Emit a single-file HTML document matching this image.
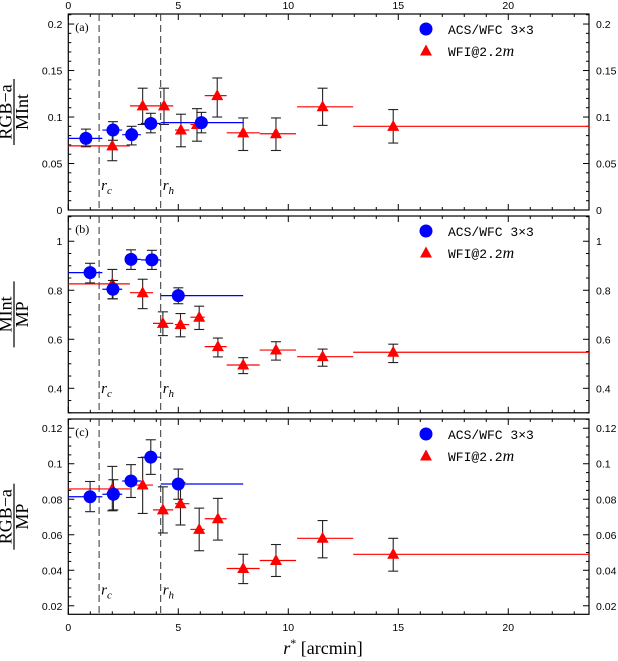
<!DOCTYPE html>
<html><head><meta charset="utf-8">
<style>
html,body{margin:0;padding:0;background:#fff;}
svg{display:block;}
text{font-family:"Liberation Sans",sans-serif;}
text.serif{font-family:"Liberation Serif",serif;}
text.mono{font-family:"Liberation Mono",monospace;}
</style></head>
<body>
<svg id="chart" width="618" height="661" viewBox="0 0 618 661" xmlns="http://www.w3.org/2000/svg"></svg>
<script>
// ---- data ----
const rcPos = 1.4;
const rhPos = 4.2;
const panelLabels = ['(a)', '(b)', '(c)'];
const xTickLabels = [0, 5, 10, 15, 20];

// panel a: RGB-a / MInt
const acsA_x = [0.8, 2.03, 2.88, 3.75, 6.05];
const acsA_y = [0.077, 0.086, 0.081, 0.093, 0.094];
const acsA_lo = [0.068, 0.075, 0.070, 0.083, 0.083];
const acsA_hi = [0.087, 0.095, 0.090, 0.104, 0.105];
const acsA_x0 = [0, 1.55, 2.45, 3.3, 4.2];
const acsA_x1 = [1.55, 2.45, 3.3, 4.2, 7.95];
const wfiA_x = [2.0, 3.38, 4.35, 5.12, 5.85, 6.77, 7.95, 9.44, 11.56, 14.77];
const wfiA_y = [0.069, 0.112, 0.112, 0.086, 0.092, 0.123, 0.083, 0.082, 0.111, 0.090];
const wfiA_lo = [0.053, 0.092, 0.092, 0.068, 0.074, 0.100, 0.064, 0.064, 0.091, 0.072];
const wfiA_hi = [0.085, 0.131, 0.131, 0.103, 0.109, 0.142, 0.099, 0.099, 0.131, 0.108];
const wfi_x0 = [0, 2.8, 3.85, 4.85, 5.55, 6.2, 7.2, 8.7, 10.4, 12.95];
const wfi_x1 = [2.8, 3.85, 4.77, 5.5, 6.2, 7.2, 8.7, 10.35, 12.95, 23.67];

// panel b: MInt / MP
const acsB_x = [0.99, 2.03, 2.85, 3.8, 5.0];
const acsB_y = [0.872, 0.804, 0.926, 0.924, 0.778];
const acsB_lo = [0.83, 0.765, 0.885, 0.885, 0.745];
const acsB_hi = [0.91, 0.84, 0.965, 0.963, 0.81];
const acsB_x0 = [0, 1.55, 2.6, 3.3, 4.2];
const acsB_x1 = [1.55, 2.45, 3.3, 4.2, 7.95];
const wfiB_x = [2.0, 3.38, 4.3, 5.1, 5.95, 6.8, 7.95, 9.44, 11.56, 14.77];
const wfiB_y = [0.826, 0.79, 0.665, 0.66, 0.69, 0.57, 0.495, 0.556, 0.529, 0.547];
const wfiB_lo = [0.765, 0.725, 0.615, 0.61, 0.64, 0.528, 0.46, 0.515, 0.49, 0.505];
const wfiB_hi = [0.885, 0.845, 0.712, 0.705, 0.735, 0.605, 0.525, 0.59, 0.56, 0.58];

// panel c: RGB-a / MP
const acsC_x = [0.99, 2.05, 2.85, 3.75, 5.0];
const acsC_y = [0.0814, 0.0828, 0.0903, 0.1037, 0.0886];
const acsC_lo = [0.073, 0.074, 0.081, 0.094, 0.080];
const acsC_hi = [0.090, 0.091, 0.0995, 0.1135, 0.097];
const acsC_x0 = [0, 1.55, 2.45, 3.3, 4.2];
const acsC_x1 = [1.55, 2.45, 3.3, 4.2, 7.95];
const wfiC_x = [2.0, 3.38, 4.3, 5.1, 5.95, 6.8, 7.95, 9.44, 11.56, 14.77];
const wfiC_y = [0.0858, 0.088, 0.074, 0.0775, 0.063, 0.069, 0.041, 0.0455, 0.058, 0.049];
const wfiC_lo = [0.0735, 0.072, 0.061, 0.0655, 0.051, 0.057, 0.0325, 0.0365, 0.047, 0.0395];
const wfiC_hi = [0.0985, 0.1035, 0.087, 0.0895, 0.075, 0.0805, 0.049, 0.0545, 0.068, 0.058];

const yTicksA = [0, 0.05, 0.1, 0.15, 0.2];
const yTickLabelsA = ['0', '0.05', '0.1', '0.15', '0.2'];
const yTicksB = [0.4, 0.6, 0.8, 1];
const yTickLabelsB = ['0.4', '0.6', '0.8', '1'];
const yTicksC = [0.02, 0.04, 0.06, 0.08, 0.1, 0.12];
const yTickLabelsC = ['0.02', '0.04', '0.06', '0.08', '0.1', '0.12'];

// ---- layout ----
const NS = 'http://www.w3.org/2000/svg';
const svg = document.getElementById('chart');
const L = 68.3, R = 589, XMIN = 0, XMAX = 23.67;
const xs = v => L + (v - XMIN) / (XMAX - XMIN) * (R - L);
function mk(tag, attrs, parent) {
  const e = document.createElementNS(NS, tag);
  for (const k in attrs) e.setAttribute(k, attrs[k]);
  (parent || svg).appendChild(e);
  return e;
}
const panels = [
  {top:14, bot:210, ymin:0, ymax:0.2108, minor:0.01, ticks:yTicksA, labs:yTickLabelsA,
   acs:[acsA_x,acsA_y,acsA_lo,acsA_hi,acsA_x0,acsA_x1], wfi:[wfiA_x,wfiA_y,wfiA_lo,wfiA_hi,wfi_x0,wfi_x1],
   ytitle:['RGB−a','MInt'], name:'panel-a'},
  {top:216, bot:412.8, ymin:0.3, ymax:1.103, minor:0.05, ticks:yTicksB, labs:yTickLabelsB,
   acs:[acsB_x,acsB_y,acsB_lo,acsB_hi,acsB_x0,acsB_x1], wfi:[wfiB_x,wfiB_y,wfiB_lo,wfiB_hi,wfi_x0,wfi_x1],
   ytitle:['MInt','MP'], name:'panel-b'},
  {top:419, bot:614.3, ymin:0.0152, ymax:0.1252, minor:0.005, ticks:yTicksC, labs:yTickLabelsC,
   acs:[acsC_x,acsC_y,acsC_lo,acsC_hi,acsC_x0,acsC_x1], wfi:[wfiC_x,wfiC_y,wfiC_lo,wfiC_hi,wfi_x0,wfi_x1],
   ytitle:['RGB−a','MP'], name:'panel-c'}
];

panels.forEach((p, pi) => {
  const ys = v => p.bot - (v - p.ymin) / (p.ymax - p.ymin) * (p.bot - p.top);
  const g = mk('g', {});
  
  
  const fr = mk('rect', {x:L, y:p.top, width:R-L, height:p.bot-p.top, fill:'none', stroke:'#000', 'stroke-width':1.2}, g);
  
  
  for (let v = 0; v <= 23; v++) {
    const len = v % 5 === 0 ? 6 : 3;
    const x = xs(v);
    mk('line', {x1:x, x2:x, y1:p.bot, y2:p.bot-len, stroke:'#000', 'stroke-width':1}, g);
    mk('line', {x1:x, x2:x, y1:p.top, y2:p.top+len, stroke:'#000', 'stroke-width':1}, g);
  }
  const nMinor = Math.round((p.ymax - p.ymin) / p.minor) + 2;
  const start = Math.ceil(p.ymin / p.minor - 1e-6) * p.minor;
  for (let i = 0; i < nMinor; i++) {
    const v = start + i * p.minor;
    if (v > p.ymax) break;
    const y = ys(v);
    const major = p.ticks.some(t => Math.abs(t - v) < p.minor * 0.1);
    const len = major ? 6 : 3;
    mk('line', {x1:L, x2:L+len, y1:y, y2:y, stroke:'#000', 'stroke-width':1}, g);
    mk('line', {x1:R, x2:R-len, y1:y, y2:y, stroke:'#000', 'stroke-width':1}, g);
  }
  p.ticks.forEach((t, i) => {
    const y = ys(t) + 4;
    const tl = mk('text', {x:L-6, y:y, 'font-size':10.5, 'text-anchor':'end', fill:'#000'}, g);
    tl.textContent = p.labs[i];
    
    
    const tr = mk('text', {x:R+7, y:y, 'font-size':10.5, 'text-anchor':'start', fill:'#000'}, g);
    tr.textContent = p.labs[i];
    
    
  });
  const pl = mk('text', {x:L+7, y:p.top+17, 'font-size':12, class:'serif'}, g);
  pl.textContent = panelLabels[pi];
  
  
  [rcPos, rhPos].forEach((v, k) => {
    const dl = mk('line', {x1:xs(v), x2:xs(v), y1:p.top, y2:p.bot, stroke:'#333', 'stroke-width':1, 'stroke-dasharray':'7,4'}, g);
    
    
    const lt = mk('text', {x:xs(v)+2, y:p.bot-20, 'font-size':15, 'font-style':'italic', class:'serif'}, g);
    lt.textContent = 'r';
    const sub = mk('tspan', {'font-size':11, dy:4}, lt);
    sub.textContent = k === 0 ? 'c' : 'h';
    
    
  });
  // y title (fraction)
  const cy = (p.top + p.bot) / 2;
  const yt = mk('g', {transform:`translate(14,${cy}) rotate(-90)`}, g);
  
  
  const num = mk('text', {x:0, y:-2.5, 'font-size':18, 'text-anchor':'middle', class:'serif'}, yt);
  num.textContent = p.ytitle[0];
  mk('line', {x1:-33, x2:33, y1:0, y2:0, stroke:'#000', 'stroke-width':1.2}, yt);
  const den = mk('text', {x:0, y:14, 'font-size':18, 'text-anchor':'middle', class:'serif'}, yt);
  den.textContent = p.ytitle[1];
  const drawSeries = (arr, color, kind) => {
    const [X, Y, LO, HI, X0, X1] = arr;
    X.forEach((xv, i) => {
      const hb = mk('line', {x1:xs(X0[i]), x2:xs(X1[i]), y1:ys(Y[i]), y2:ys(Y[i]), stroke:color, 'stroke-width':1.2}, g);
      
      
    });
    X.forEach((xv, i) => {
      const x = xs(xv);
      const eg = mk('g', {stroke:'#222', 'stroke-width':1.1}, g);
      
      
      mk('line', {x1:x, x2:x, y1:ys(LO[i]), y2:ys(HI[i])}, eg);
      mk('line', {x1:x-5, x2:x+5, y1:ys(LO[i]), y2:ys(LO[i])}, eg);
      mk('line', {x1:x-5, x2:x+5, y1:ys(HI[i]), y2:ys(HI[i])}, eg);
    });
    X.forEach((xv, i) => {
      const x = xs(xv), y = ys(Y[i]);
      let m;
      if (kind === 'acs') m = mk('circle', {cx:x, cy:y, r:6.5, fill:'#0000ff'}, g);
      else m = mk('polygon', {points:`${x},${y-6.5} ${x-6},${y+4.5} ${x+6},${y+4.5}`, fill:'#ff0000'}, g);
      
      
    });
  };
  drawSeries(p.wfi, '#ff0000', 'wfi');
  drawSeries(p.acs, '#0000ff', 'acs');
  const lg = mk('g', {}, g);
  
  
  const ly1 = p.top + 15, ly2 = p.top + 37;
  const lc = mk('circle', {cx:426, cy:ly1, r:6.5, fill:'#0000ff'}, lg);
  
  
  const t1 = mk('text', {x:448, y:ly1+5, 'font-size':13, class:'mono'}, lg);
  t1.textContent = 'ACS/WFC 3×3';
  
  
  const lt2 = mk('polygon', {points:`426,${ly2-6.5} 420,${ly2+4.5} 432,${ly2+4.5}`, fill:'#ff0000'}, lg);
  
  
  const t2 = mk('text', {x:448, y:ly2+5, 'font-size':13, class:'mono'}, lg);
  t2.textContent = 'WFI@2.2';
  const it = mk('tspan', {'font-style':'italic', style:'font-family:"Liberation Serif",serif;font-size:16px'}, t2);
  it.textContent = 'm';
  
  
});

xTickLabels.forEach(v => {
  const tt = mk('text', {x:xs(v), y:9, 'font-size':10.5, 'text-anchor':'middle'});
  tt.textContent = v;
  
  
  const tb = mk('text', {x:xs(v), y:631, 'font-size':10.5, 'text-anchor':'middle'});
  tb.textContent = v;
  
  
});
const xt = mk('text', {x:323, y:654, 'font-size':18, 'text-anchor':'middle', class:'serif'});


const r = mk('tspan', {'font-style':'italic'}, xt); r.textContent = 'r';
const st = mk('tspan', {'font-size':12, dy:-7}, xt); st.textContent = '*';
const rest = mk('tspan', {dy:7}, xt); rest.textContent = ' [arcmin]';
</script>
</body></html>
